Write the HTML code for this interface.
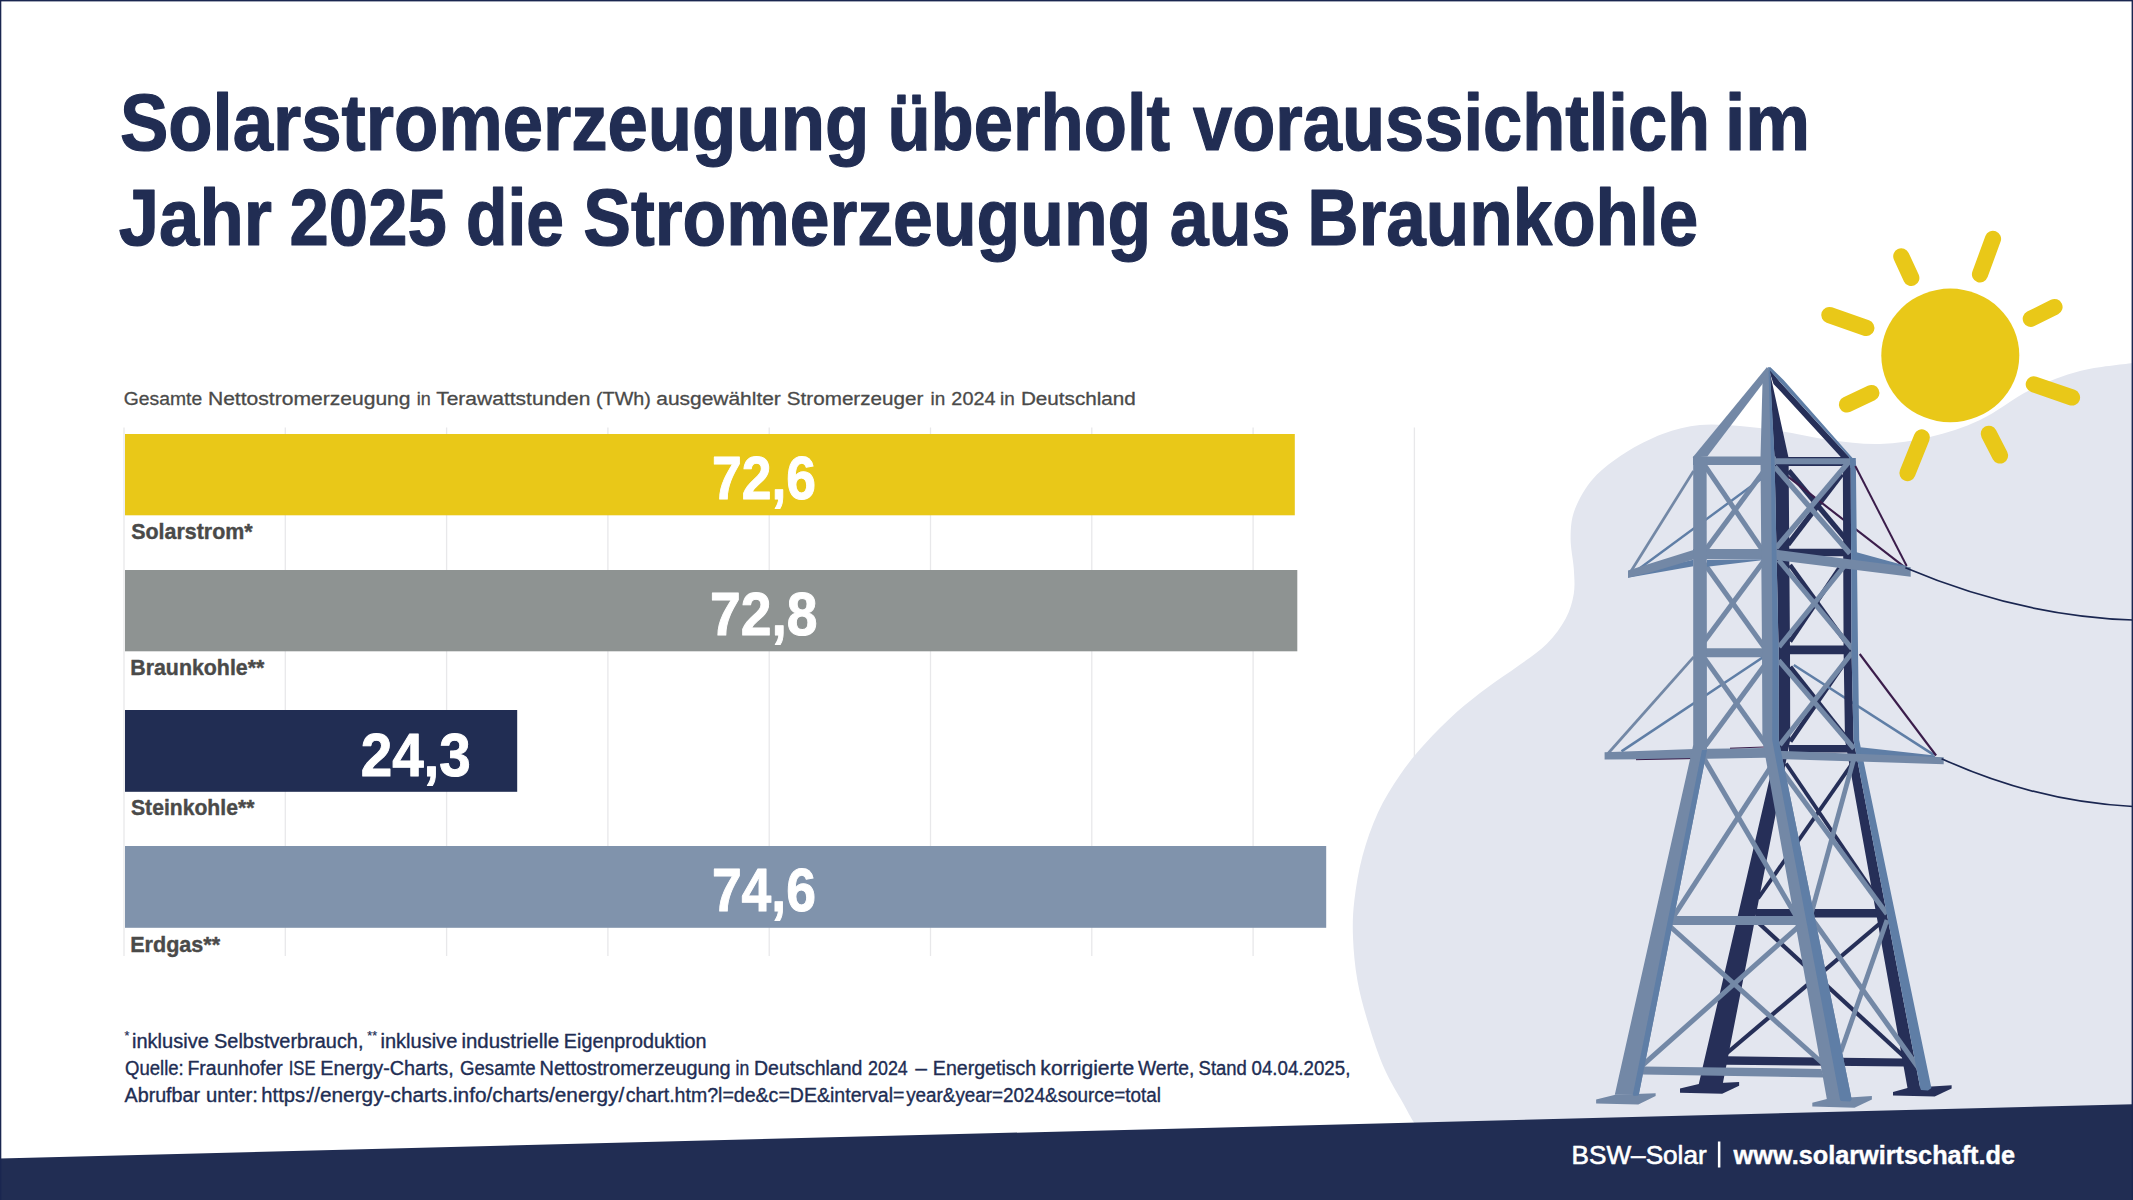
<!DOCTYPE html>
<html lang="de"><head><meta charset="utf-8"><title>Solarstromerzeugung</title>
<style>
html,body{margin:0;padding:0;background:#fff;}
body{width:2133px;height:1200px;overflow:hidden;font-family:"Liberation Sans",sans-serif;}
svg{display:block;}
</style></head><body>
<svg width="2133" height="1200" viewBox="0 0 2133 1200">
<rect x="0" y="0" width="2133" height="1200" fill="#ffffff"/>
<rect x="123.35" y="427.5" width="1.3" height="528.5" fill="#e8e8ea"/>
<rect x="284.65" y="427.5" width="1.3" height="528.5" fill="#e8e8ea"/>
<rect x="445.95" y="427.5" width="1.3" height="528.5" fill="#e8e8ea"/>
<rect x="607.25" y="427.5" width="1.3" height="528.5" fill="#e8e8ea"/>
<rect x="768.55" y="427.5" width="1.3" height="528.5" fill="#e8e8ea"/>
<rect x="929.85" y="427.5" width="1.3" height="528.5" fill="#e8e8ea"/>
<rect x="1091.15" y="427.5" width="1.3" height="528.5" fill="#e8e8ea"/>
<rect x="1252.45" y="427.5" width="1.3" height="528.5" fill="#e8e8ea"/>
<rect x="1413.75" y="427.5" width="1.3" height="528.5" fill="#e8e8ea"/>
<path d="M2140.0,362.0 C2138.8,362.2 2143.0,361.5 2133.0,363.0 C2123.0,364.5 2097.2,366.5 2080.0,371.0 C2062.8,375.5 2046.7,381.8 2030.0,390.0 C2013.3,398.2 1996.7,412.2 1980.0,420.0 C1963.3,427.8 1946.7,433.0 1930.0,437.0 C1913.3,441.0 1896.7,443.5 1880.0,444.0 C1863.3,444.5 1846.7,442.2 1830.0,440.0 C1813.3,437.8 1795.0,433.3 1780.0,431.0 C1765.0,428.7 1753.3,427.0 1740.0,426.0 C1726.7,425.0 1712.9,423.7 1700.0,425.0 C1687.1,426.3 1675.0,429.3 1662.5,434.0 C1650.0,438.7 1636.5,445.7 1625.0,453.0 C1613.5,460.3 1602.1,468.7 1593.8,478.0 C1585.4,487.3 1578.9,499.1 1575.0,509.0 C1571.1,518.9 1570.8,527.5 1570.6,537.5 C1570.4,547.5 1573.2,559.4 1573.8,568.8 C1574.3,578.1 1575.1,585.4 1573.8,593.8 C1572.4,602.1 1570.1,610.4 1565.6,618.8 C1561.1,627.1 1554.7,635.9 1546.9,643.8 C1539.1,651.6 1528.7,658.3 1518.8,665.6 C1508.8,672.9 1497.9,679.7 1487.5,687.5 C1477.1,695.3 1466.7,703.1 1456.2,712.5 C1445.8,721.9 1434.4,733.3 1425.0,743.8 C1415.6,754.2 1407.8,763.5 1400.0,775.0 C1392.2,786.5 1384.2,799.0 1378.0,812.5 C1371.8,826.0 1366.4,841.4 1362.5,856.0 C1358.6,870.6 1356.0,886.4 1354.4,900.0 C1352.8,913.6 1352.5,924.0 1353.0,937.5 C1353.5,951.0 1354.9,966.4 1357.5,981.0 C1360.1,995.6 1364.3,1010.4 1368.8,1025.0 C1373.2,1039.6 1378.7,1055.8 1384.4,1068.8 C1390.1,1081.8 1397.8,1093.6 1403.0,1103.0 C1408.2,1112.4 1409.4,1115.5 1415.6,1125.0 C1421.8,1134.5 1430.9,1147.5 1440.0,1160.0 C1449.1,1172.5 1465.0,1193.3 1470.0,1200.0 L2140,1200 Z" fill="#e3e6ef"/>
<rect x="125" y="434.0" width="1169.8" height="81.3" fill="#e9c818"/>
<rect x="125" y="570.0" width="1172.3" height="81.3" fill="#8e9392"/>
<rect x="125" y="710.0" width="392.2" height="81.8" fill="#212d53"/>
<rect x="125" y="846.0" width="1201.2" height="81.8" fill="#8093ac"/>
<text x="119.88" y="150.0" font-family="Liberation Sans, sans-serif" font-size="79.5" font-weight="bold" fill="#212d53" textLength="749.38" lengthAdjust="spacingAndGlyphs" stroke="#212d53" stroke-width="1.20" stroke-linejoin="round">Solarstromerzeugung</text>
<text x="887.44" y="150.0" font-family="Liberation Sans, sans-serif" font-size="79.5" font-weight="bold" fill="#212d53" textLength="282.68" lengthAdjust="spacingAndGlyphs" stroke="#212d53" stroke-width="1.20" stroke-linejoin="round">überholt</text>
<text x="1193.10" y="150.0" font-family="Liberation Sans, sans-serif" font-size="79.5" font-weight="bold" fill="#212d53" textLength="517.04" lengthAdjust="spacingAndGlyphs" stroke="#212d53" stroke-width="1.20" stroke-linejoin="round">voraussichtlich</text>
<text x="1724.91" y="150.0" font-family="Liberation Sans, sans-serif" font-size="79.5" font-weight="bold" fill="#212d53" textLength="85.09" lengthAdjust="spacingAndGlyphs" stroke="#212d53" stroke-width="1.20" stroke-linejoin="round">im</text>
<text x="118.79" y="244.5" font-family="Liberation Sans, sans-serif" font-size="79.5" font-weight="bold" fill="#212d53" textLength="153.07" lengthAdjust="spacingAndGlyphs" stroke="#212d53" stroke-width="1.20" stroke-linejoin="round">Jahr</text>
<text x="289.52" y="244.5" font-family="Liberation Sans, sans-serif" font-size="79.5" font-weight="bold" fill="#212d53" textLength="157.25" lengthAdjust="spacingAndGlyphs" stroke="#212d53" stroke-width="1.20" stroke-linejoin="round">2025</text>
<text x="465.94" y="244.5" font-family="Liberation Sans, sans-serif" font-size="79.5" font-weight="bold" fill="#212d53" textLength="98.05" lengthAdjust="spacingAndGlyphs" stroke="#212d53" stroke-width="1.20" stroke-linejoin="round">die</text>
<text x="583.20" y="244.5" font-family="Liberation Sans, sans-serif" font-size="79.5" font-weight="bold" fill="#212d53" textLength="568.10" lengthAdjust="spacingAndGlyphs" stroke="#212d53" stroke-width="1.20" stroke-linejoin="round">Stromerzeugung</text>
<text x="1169.74" y="244.5" font-family="Liberation Sans, sans-serif" font-size="79.5" font-weight="bold" fill="#212d53" textLength="120.59" lengthAdjust="spacingAndGlyphs" stroke="#212d53" stroke-width="1.20" stroke-linejoin="round">aus</text>
<text x="1307.33" y="244.5" font-family="Liberation Sans, sans-serif" font-size="79.5" font-weight="bold" fill="#212d53" textLength="390.95" lengthAdjust="spacingAndGlyphs" stroke="#212d53" stroke-width="1.20" stroke-linejoin="round">Braunkohle</text>
<text x="123.85" y="405.2" font-family="Liberation Sans, sans-serif" font-size="18.8" fill="#4a4a49" textLength="78.36" lengthAdjust="spacingAndGlyphs" stroke="#4a4a49" stroke-width="0.30" stroke-linejoin="round">Gesamte</text>
<text x="207.93" y="405.2" font-family="Liberation Sans, sans-serif" font-size="18.8" fill="#4a4a49" textLength="202.62" lengthAdjust="spacingAndGlyphs" stroke="#4a4a49" stroke-width="0.30" stroke-linejoin="round">Nettostromerzeugung</text>
<text x="416.79" y="405.2" font-family="Liberation Sans, sans-serif" font-size="18.8" fill="#4a4a49" textLength="13.98" lengthAdjust="spacingAndGlyphs" stroke="#4a4a49" stroke-width="0.30" stroke-linejoin="round">in</text>
<text x="436.15" y="405.2" font-family="Liberation Sans, sans-serif" font-size="18.8" fill="#4a4a49" textLength="154.30" lengthAdjust="spacingAndGlyphs" stroke="#4a4a49" stroke-width="0.30" stroke-linejoin="round">Terawattstunden</text>
<text x="596.00" y="405.2" font-family="Liberation Sans, sans-serif" font-size="18.8" fill="#4a4a49" textLength="54.82" lengthAdjust="spacingAndGlyphs" stroke="#4a4a49" stroke-width="0.30" stroke-linejoin="round">(TWh)</text>
<text x="656.25" y="405.2" font-family="Liberation Sans, sans-serif" font-size="18.8" fill="#4a4a49" textLength="124.58" lengthAdjust="spacingAndGlyphs" stroke="#4a4a49" stroke-width="0.30" stroke-linejoin="round">ausgewählter</text>
<text x="786.85" y="405.2" font-family="Liberation Sans, sans-serif" font-size="18.8" fill="#4a4a49" textLength="136.48" lengthAdjust="spacingAndGlyphs" stroke="#4a4a49" stroke-width="0.30" stroke-linejoin="round">Stromerzeuger</text>
<text x="930.44" y="405.2" font-family="Liberation Sans, sans-serif" font-size="18.8" fill="#4a4a49" textLength="14.76" lengthAdjust="spacingAndGlyphs" stroke="#4a4a49" stroke-width="0.30" stroke-linejoin="round">in</text>
<text x="951.35" y="405.2" font-family="Liberation Sans, sans-serif" font-size="18.8" fill="#4a4a49" textLength="44.17" lengthAdjust="spacingAndGlyphs" stroke="#4a4a49" stroke-width="0.30" stroke-linejoin="round">2024</text>
<text x="1000.04" y="405.2" font-family="Liberation Sans, sans-serif" font-size="18.8" fill="#4a4a49" textLength="14.76" lengthAdjust="spacingAndGlyphs" stroke="#4a4a49" stroke-width="0.30" stroke-linejoin="round">in</text>
<text x="1020.95" y="405.2" font-family="Liberation Sans, sans-serif" font-size="18.8" fill="#4a4a49" textLength="114.89" lengthAdjust="spacingAndGlyphs" stroke="#4a4a49" stroke-width="0.30" stroke-linejoin="round">Deutschland</text>
<text x="131.20" y="538.8" font-family="Liberation Sans, sans-serif" font-size="22.0" font-weight="bold" fill="#4a4a49" textLength="121.47" lengthAdjust="spacingAndGlyphs" stroke="#4a4a49" stroke-width="0.40" stroke-linejoin="round">Solarstrom*</text>
<text x="130.23" y="675.0" font-family="Liberation Sans, sans-serif" font-size="22.0" font-weight="bold" fill="#4a4a49" textLength="134.15" lengthAdjust="spacingAndGlyphs" stroke="#4a4a49" stroke-width="0.40" stroke-linejoin="round">Braunkohle**</text>
<text x="131.00" y="815.0" font-family="Liberation Sans, sans-serif" font-size="22.0" font-weight="bold" fill="#4a4a49" textLength="123.38" lengthAdjust="spacingAndGlyphs" stroke="#4a4a49" stroke-width="0.40" stroke-linejoin="round">Steinkohle**</text>
<text x="130.22" y="951.8" font-family="Liberation Sans, sans-serif" font-size="22.0" font-weight="bold" fill="#4a4a49" textLength="89.95" lengthAdjust="spacingAndGlyphs" stroke="#4a4a49" stroke-width="0.40" stroke-linejoin="round">Erdgas**</text>
<text x="711.98" y="499.4" font-family="Liberation Sans, sans-serif" font-size="62.0" font-weight="bold" fill="#ffffff" textLength="104.00" lengthAdjust="spacingAndGlyphs" stroke="#ffffff" stroke-width="1.00" stroke-linejoin="round">72,6</text>
<text x="710.02" y="634.8" font-family="Liberation Sans, sans-serif" font-size="62.0" font-weight="bold" fill="#ffffff" textLength="107.60" lengthAdjust="spacingAndGlyphs" stroke="#ffffff" stroke-width="1.00" stroke-linejoin="round">72,8</text>
<text x="360.67" y="775.9" font-family="Liberation Sans, sans-serif" font-size="62.0" font-weight="bold" fill="#ffffff" textLength="110.18" lengthAdjust="spacingAndGlyphs" stroke="#ffffff" stroke-width="1.00" stroke-linejoin="round">24,3</text>
<text x="711.88" y="911.1" font-family="Liberation Sans, sans-serif" font-size="62.0" font-weight="bold" fill="#ffffff" textLength="104.00" lengthAdjust="spacingAndGlyphs" stroke="#ffffff" stroke-width="1.00" stroke-linejoin="round">74,6</text>
<text x="124.50" y="1040.0" font-family="Liberation Sans, sans-serif" font-size="13.0" fill="#212d53" textLength="4.86" lengthAdjust="spacingAndGlyphs" stroke="#212d53" stroke-width="0.20" stroke-linejoin="round">*</text>
<text x="132.05" y="1047.7" font-family="Liberation Sans, sans-serif" font-size="19.5" fill="#212d53" textLength="76.74" lengthAdjust="spacingAndGlyphs" stroke="#212d53" stroke-width="0.35" stroke-linejoin="round">inklusive</text>
<text x="214.08" y="1047.7" font-family="Liberation Sans, sans-serif" font-size="19.5" fill="#212d53" textLength="149.40" lengthAdjust="spacingAndGlyphs" stroke="#212d53" stroke-width="0.35" stroke-linejoin="round">Selbstverbrauch,</text>
<text x="367.30" y="1040.0" font-family="Liberation Sans, sans-serif" font-size="13.0" fill="#212d53" textLength="9.76" lengthAdjust="spacingAndGlyphs" stroke="#212d53" stroke-width="0.20" stroke-linejoin="round">**</text>
<text x="380.45" y="1047.7" font-family="Liberation Sans, sans-serif" font-size="19.5" fill="#212d53" textLength="76.85" lengthAdjust="spacingAndGlyphs" stroke="#212d53" stroke-width="0.35" stroke-linejoin="round">inklusive</text>
<text x="461.43" y="1047.7" font-family="Liberation Sans, sans-serif" font-size="19.5" fill="#212d53" textLength="97.79" lengthAdjust="spacingAndGlyphs" stroke="#212d53" stroke-width="0.35" stroke-linejoin="round">industrielle</text>
<text x="563.86" y="1047.7" font-family="Liberation Sans, sans-serif" font-size="19.5" fill="#212d53" textLength="142.72" lengthAdjust="spacingAndGlyphs" stroke="#212d53" stroke-width="0.35" stroke-linejoin="round">Eigenproduktion</text>
<text x="125.08" y="1074.7" font-family="Liberation Sans, sans-serif" font-size="19.5" fill="#212d53" textLength="58.70" lengthAdjust="spacingAndGlyphs" stroke="#212d53" stroke-width="0.35" stroke-linejoin="round">Quelle:</text>
<text x="187.48" y="1074.7" font-family="Liberation Sans, sans-serif" font-size="19.5" fill="#212d53" textLength="95.24" lengthAdjust="spacingAndGlyphs" stroke="#212d53" stroke-width="0.35" stroke-linejoin="round">Fraunhofer</text>
<text x="288.72" y="1074.7" font-family="Liberation Sans, sans-serif" font-size="19.5" fill="#212d53" textLength="26.81" lengthAdjust="spacingAndGlyphs" stroke="#212d53" stroke-width="0.35" stroke-linejoin="round">ISE</text>
<text x="320.36" y="1074.7" font-family="Liberation Sans, sans-serif" font-size="19.5" fill="#212d53" textLength="133.31" lengthAdjust="spacingAndGlyphs" stroke="#212d53" stroke-width="0.35" stroke-linejoin="round">Energy-Charts,</text>
<text x="460.07" y="1074.7" font-family="Liberation Sans, sans-serif" font-size="19.5" fill="#212d53" textLength="75.46" lengthAdjust="spacingAndGlyphs" stroke="#212d53" stroke-width="0.35" stroke-linejoin="round">Gesamte</text>
<text x="539.56" y="1074.7" font-family="Liberation Sans, sans-serif" font-size="19.5" fill="#212d53" textLength="191.13" lengthAdjust="spacingAndGlyphs" stroke="#212d53" stroke-width="0.35" stroke-linejoin="round">Nettostromerzeugung</text>
<text x="735.47" y="1074.7" font-family="Liberation Sans, sans-serif" font-size="19.5" fill="#212d53" textLength="13.72" lengthAdjust="spacingAndGlyphs" stroke="#212d53" stroke-width="0.35" stroke-linejoin="round">in</text>
<text x="753.98" y="1074.7" font-family="Liberation Sans, sans-serif" font-size="19.5" fill="#212d53" textLength="108.39" lengthAdjust="spacingAndGlyphs" stroke="#212d53" stroke-width="0.35" stroke-linejoin="round">Deutschland</text>
<text x="868.07" y="1074.7" font-family="Liberation Sans, sans-serif" font-size="19.5" fill="#212d53" textLength="39.71" lengthAdjust="spacingAndGlyphs" stroke="#212d53" stroke-width="0.35" stroke-linejoin="round">2024</text>
<text x="915.27" y="1074.7" font-family="Liberation Sans, sans-serif" font-size="19.5" fill="#212d53" textLength="11.75" lengthAdjust="spacingAndGlyphs" stroke="#212d53" stroke-width="0.35" stroke-linejoin="round">—</text>
<text x="932.87" y="1074.7" font-family="Liberation Sans, sans-serif" font-size="19.5" fill="#212d53" textLength="103.40" lengthAdjust="spacingAndGlyphs" stroke="#212d53" stroke-width="0.35" stroke-linejoin="round">Energetisch</text>
<text x="1040.39" y="1074.7" font-family="Liberation Sans, sans-serif" font-size="19.5" fill="#212d53" textLength="93.85" lengthAdjust="spacingAndGlyphs" stroke="#212d53" stroke-width="0.35" stroke-linejoin="round">korrigierte</text>
<text x="1137.97" y="1074.7" font-family="Liberation Sans, sans-serif" font-size="19.5" fill="#212d53" textLength="56.45" lengthAdjust="spacingAndGlyphs" stroke="#212d53" stroke-width="0.35" stroke-linejoin="round">Werte,</text>
<text x="1198.58" y="1074.7" font-family="Liberation Sans, sans-serif" font-size="19.5" fill="#212d53" textLength="48.25" lengthAdjust="spacingAndGlyphs" stroke="#212d53" stroke-width="0.35" stroke-linejoin="round">Stand</text>
<text x="1251.47" y="1074.7" font-family="Liberation Sans, sans-serif" font-size="19.5" fill="#212d53" textLength="98.91" lengthAdjust="spacingAndGlyphs" stroke="#212d53" stroke-width="0.35" stroke-linejoin="round">04.04.2025,</text>
<text x="124.58" y="1101.7" font-family="Liberation Sans, sans-serif" font-size="19.5" fill="#212d53" textLength="75.44" lengthAdjust="spacingAndGlyphs" stroke="#212d53" stroke-width="0.35" stroke-linejoin="round">Abrufbar</text>
<text x="206.03" y="1101.7" font-family="Liberation Sans, sans-serif" font-size="19.5" fill="#212d53" textLength="51.86" lengthAdjust="spacingAndGlyphs" stroke="#212d53" stroke-width="0.35" stroke-linejoin="round">unter:</text>
<text x="261.34" y="1101.7" font-family="Liberation Sans, sans-serif" font-size="19.5" fill="#212d53" textLength="49.35" lengthAdjust="spacingAndGlyphs" stroke="#212d53" stroke-width="0.35" stroke-linejoin="round">https:</text>
<text x="308.38" y="1101.7" font-family="Liberation Sans, sans-serif" font-size="19.5" fill="#212d53" textLength="315.83" lengthAdjust="spacingAndGlyphs" stroke="#212d53" stroke-width="0.35" stroke-linejoin="round">//energy-charts.info/charts/energy/</text>
<text x="625.67" y="1101.7" font-family="Liberation Sans, sans-serif" font-size="19.5" fill="#212d53" textLength="278.84" lengthAdjust="spacingAndGlyphs" stroke="#212d53" stroke-width="0.35" stroke-linejoin="round">chart.htm?l=de&amp;c=DE&amp;interval=</text>
<text x="906.17" y="1101.7" font-family="Liberation Sans, sans-serif" font-size="19.5" fill="#212d53" textLength="254.77" lengthAdjust="spacingAndGlyphs" stroke="#212d53" stroke-width="0.35" stroke-linejoin="round">year&amp;year=2024&amp;source=total</text>
<polygon points="1680.0,1088.6 1698.8,1083.9 1739.1,1082.0 1739.1,1085.8 1722.2,1093.8 1680.0,1092.8" fill="#262f58"/>
<polygon points="1893.0,1091.9 1907.5,1088.1 1951.6,1085.3 1951.6,1088.6 1934.7,1096.6 1893.0,1095.6" fill="#262f58"/>
<line x1="1854.7" y1="760.0" x2="1758.0" y2="898.5" stroke="#262f58" stroke-width="3.9" stroke-linecap="butt"/>
<line x1="1786.0" y1="763.5" x2="1880.0" y2="902.0" stroke="#262f58" stroke-width="3.9" stroke-linecap="butt"/>
<line x1="1757.5" y1="922.0" x2="1904.7" y2="1057.2" stroke="#262f58" stroke-width="4.2" stroke-linecap="butt"/>
<line x1="1884.0" y1="920.0" x2="1727.0" y2="1053.0" stroke="#262f58" stroke-width="4.2" stroke-linecap="butt"/>
<line x1="1790.0" y1="565.0" x2="1845.0" y2="641.0" stroke="#262f58" stroke-width="4.6" stroke-linecap="butt"/>
<line x1="1839.5" y1="568.0" x2="1790.0" y2="641.5" stroke="#262f58" stroke-width="4.6" stroke-linecap="butt"/>
<line x1="1790.3" y1="666.8" x2="1846.3" y2="738.0" stroke="#262f58" stroke-width="4.6" stroke-linecap="butt"/>
<line x1="1845.7" y1="661.0" x2="1790.3" y2="741.5" stroke="#262f58" stroke-width="4.6" stroke-linecap="butt"/>
<line x1="1788.7" y1="470.7" x2="1845.3" y2="538.7" stroke="#262f58" stroke-width="5.2" stroke-linecap="butt"/>
<line x1="1841.9" y1="474.0" x2="1787.9" y2="544.6" stroke="#262f58" stroke-width="5.2" stroke-linecap="butt"/>
<polygon points="1776.0,456.9 1846.0,456.9 1846.0,466.0 1776.0,466.0" fill="#262f58"/>
<polygon points="1788.0,548.7 1847.0,548.7 1847.0,556.2 1788.0,556.2" fill="#262f58"/>
<polygon points="1789.0,645.6 1847.0,645.6 1847.0,654.2 1789.0,654.2" fill="#262f58"/>
<polygon points="1789.0,745.0 1848.0,745.0 1848.0,752.6 1789.0,752.6" fill="#262f58"/>
<polygon points="1756.0,909.0 1886.0,909.0 1886.0,917.5 1756.0,917.5" fill="#262f58"/>
<polygon points="1726.0,1056.3 1903.8,1058.6 1905.6,1066.6 1726.0,1064.7" fill="#262f58"/>
<line x1="1793.8" y1="665.0" x2="1933.8" y2="754.9" stroke="#5f7ea6" stroke-width="2.5" stroke-linecap="butt"/>
<line x1="1788.0" y1="476.7" x2="1904.0" y2="566.7" stroke="#3b1d4b" stroke-width="2.1" stroke-linecap="butt"/>
<polygon points="1769.0,368.5 1774.5,458.0 1778.6,650.0 1778.6,740.0 1698.8,1084.0 1722.7,1084.0 1790.2,740.0 1790.0,650.0 1788.6,458.0" fill="#262f58"/>
<polygon points="1842.8,458.0 1843.6,650.0 1845.0,740.0 1907.5,1088.1 1920.2,1088.1 1853.5,740.0 1851.5,650.0 1850.7,458.0" fill="#262f58"/>
<polygon points="1768.5,368.0 1780.0,382.1 1849.6,457.6 1846.0,466.0 1841.7,457.9 1780.0,390.8 1773.5,384.0 1769.0,370.0" fill="#262f58"/>
<polygon points="1767.6,367.2 1770.5,367.2 1783.8,380.3 1855.4,461.2 1855.8,468.0 1850.2,468.0 1849.2,457.1 1780.0,382.1 1768.5,369.0" fill="#5f7ea6"/>
<line x1="1634.0" y1="572.5" x2="1761.0" y2="479.0" stroke="#5f7ea6" stroke-width="2.4" stroke-linecap="butt"/>
<line x1="1621.5" y1="751.4" x2="1762.6" y2="657.5" stroke="#5f7ea6" stroke-width="2.5" stroke-linecap="butt"/>
<line x1="1703.5" y1="463.7" x2="1763.3" y2="551.3" stroke="#7388a6" stroke-width="5.0" stroke-linecap="butt"/>
<line x1="1763.4" y1="471.8" x2="1704.6" y2="551.2" stroke="#7388a6" stroke-width="5.0" stroke-linecap="butt"/>
<line x1="1774.7" y1="466.7" x2="1850.0" y2="553.6" stroke="#7388a6" stroke-width="5.3" stroke-linecap="butt"/>
<line x1="1848.7" y1="462.0" x2="1776.0" y2="548.0" stroke="#7388a6" stroke-width="5.3" stroke-linecap="butt"/>
<line x1="1704.5" y1="563.7" x2="1764.3" y2="647.3" stroke="#7388a6" stroke-width="5.0" stroke-linecap="butt"/>
<line x1="1764.4" y1="560.3" x2="1704.4" y2="641.2" stroke="#7388a6" stroke-width="5.0" stroke-linecap="butt"/>
<line x1="1778.5" y1="560.0" x2="1852.0" y2="648.6" stroke="#7388a6" stroke-width="5.0" stroke-linecap="butt"/>
<line x1="1844.0" y1="566.5" x2="1779.0" y2="647.0" stroke="#7388a6" stroke-width="5.0" stroke-linecap="butt"/>
<line x1="1704.9" y1="658.9" x2="1766.1" y2="744.8" stroke="#7388a6" stroke-width="5.0" stroke-linecap="butt"/>
<line x1="1765.0" y1="664.8" x2="1705.4" y2="745.8" stroke="#7388a6" stroke-width="5.0" stroke-linecap="butt"/>
<line x1="1778.7" y1="660.4" x2="1854.0" y2="748.7" stroke="#7388a6" stroke-width="5.0" stroke-linecap="butt"/>
<line x1="1852.0" y1="652.8" x2="1779.8" y2="745.0" stroke="#7388a6" stroke-width="5.0" stroke-linecap="butt"/>
<line x1="1704.0" y1="758.6" x2="1797.5" y2="918.5" stroke="#7388a6" stroke-width="5.0" stroke-linecap="butt"/>
<line x1="1770.0" y1="768.0" x2="1673.0" y2="917.4" stroke="#7388a6" stroke-width="5.0" stroke-linecap="butt"/>
<line x1="1775.4" y1="762.0" x2="1887.0" y2="914.0" stroke="#7388a6" stroke-width="5.0" stroke-linecap="butt"/>
<line x1="1853.5" y1="760.0" x2="1810.6" y2="916.0" stroke="#7388a6" stroke-width="4.8" stroke-linecap="butt"/>
<line x1="1669.0" y1="925.5" x2="1824.0" y2="1064.5" stroke="#7388a6" stroke-width="5.0" stroke-linecap="butt"/>
<line x1="1800.0" y1="925.3" x2="1641.0" y2="1066.6" stroke="#7388a6" stroke-width="5.0" stroke-linecap="butt"/>
<line x1="1813.0" y1="920.2" x2="1917.9" y2="1067.0" stroke="#7388a6" stroke-width="5.0" stroke-linecap="butt"/>
<line x1="1887.0" y1="920.0" x2="1840.8" y2="1052.0" stroke="#7388a6" stroke-width="4.8" stroke-linecap="butt"/>
<polygon points="1850.7,458.0 1851.5,650.0 1853.5,740.0 1920.2,1088.1 1921.0,1090.0 1928.0,1090.5 1931.4,1088.1 1859.2,740.0 1858.0,650.0 1855.8,458.0" fill="#5f7ea6"/>
<polygon points="1693.0,456.5 1776.0,456.5 1776.0,465.0 1693.0,465.0" fill="#7388a6"/>
<polygon points="1776.0,458.3 1850.0,458.3 1850.0,464.3 1776.0,464.3" fill="#7388a6"/>
<polygon points="1706.0,648.2 1763.0,648.2 1763.0,657.2 1706.0,657.2" fill="#7388a6"/>
<polygon points="1672.0,916.0 1798.0,916.0 1798.0,925.0 1672.0,925.0" fill="#7388a6"/>
<polygon points="1642.5,1066.6 1821.3,1068.9 1824.0,1077.4 1642.5,1074.5" fill="#7388a6"/>
<polygon points="1628.0,574.0 1628.0,577.8 1693.4,566.2 1693.4,559.7" fill="#5f7ea6"/>
<polygon points="1707.0,560.0 1707.0,566.7 1761.8,560.3 1761.8,559.2" fill="#5f7ea6"/>
<polygon points="1628.0,570.4 1693.4,550.0 1693.4,559.6 1650.0,572.5 1628.0,577.8" fill="#7388a6"/>
<polygon points="1693.0,549.0 1776.0,549.0 1776.0,559.2 1693.0,559.2" fill="#7388a6"/>
<polygon points="1855.7,552.0 1906.7,566.0 1906.7,568.0 1855.7,561.0" fill="#5f7ea6"/>
<polygon points="1774.0,549.5 1910.7,567.3 1910.7,576.7 1774.0,559.8" fill="#7388a6"/>
<polygon points="1604.6,752.2 1693.8,749.0 1763.8,747.9 1778.0,748.0 1778.0,758.0 1763.8,757.8 1693.8,759.0 1604.6,759.5" fill="#7388a6"/>
<line x1="1636.0" y1="759.7" x2="1692.0" y2="758.6" stroke="#3b1d4b" stroke-width="1.0" stroke-linecap="butt"/>
<line x1="1730.0" y1="748.2" x2="1764.0" y2="747.0" stroke="#3b1d4b" stroke-width="1.0" stroke-linecap="butt"/>
<polygon points="1860.3,747.3 1935.0,755.5 1935.0,757.5 1860.3,755.0" fill="#5f7ea6"/>
<polygon points="1778.0,750.8 1943.7,757.2 1943.7,764.2 1778.0,759.0" fill="#7388a6"/>
<polygon points="1596.1,1099.4 1615.3,1094.7 1655.6,1093.3 1655.6,1096.1 1638.3,1104.5 1596.1,1103.6" fill="#7388a6"/>
<polygon points="1812.3,1102.7 1826.9,1098.9 1871.9,1096.1 1871.9,1099.4 1854.5,1107.8 1812.3,1106.4" fill="#7388a6"/>
<polygon points="1766.8,367.2 1692.6,457.5 1707.3,456.5 1762.8,383.5 1767.0,370.0" fill="#7388a6"/>
<polygon points="1693.2,457.0 1693.2,745.0 1614.8,1094.7 1638.8,1094.7 1707.0,750.0 1706.6,457.0" fill="#7388a6"/>
<polygon points="1702.0,750.0 1632.8,1094.7 1633.8,1096.0 1638.3,1095.5 1638.8,1094.7 1707.0,750.0" fill="#5f7ea6"/>
<polygon points="1766.8,367.2 1762.5,382.5 1760.5,458.0 1762.0,650.0 1762.4,740.0 1826.9,1099.4 1851.7,1099.4 1778.7,740.0 1778.5,650.0 1774.5,458.0 1770.0,370.0" fill="#7388a6"/>
<polygon points="1768.5,370.0 1771.0,458.0 1772.5,650.0 1772.2,740.0 1840.0,1099.4 1841.0,1101.0 1850.0,1101.4 1851.7,1099.4 1778.7,740.0 1778.5,650.0 1774.5,458.0 1770.0,370.0" fill="#5f7ea6"/>
<line x1="1630.5" y1="572.0" x2="1693.6" y2="471.0" stroke="#7388a6" stroke-width="2.7" stroke-linecap="butt"/>
<line x1="1906.7" y1="566.0" x2="1855.3" y2="466.0" stroke="#3b1d4b" stroke-width="2.0" stroke-linecap="butt"/>
<line x1="1608.0" y1="753.5" x2="1693.8" y2="656.9" stroke="#7388a6" stroke-width="2.7" stroke-linecap="butt"/>
<line x1="1936.1" y1="755.5" x2="1859.7" y2="654.0" stroke="#3b1d4b" stroke-width="2.1" stroke-linecap="butt"/>
<path d="M1905.4,567.8 Q2019,616 2133,620" fill="none" stroke="#1a2650" stroke-width="1.7"/>
<path d="M1941.6,758.7 Q2037,802 2133,806.5" fill="none" stroke="#1a2650" stroke-width="1.7"/>
<ellipse cx="1950.3" cy="355.4" rx="69" ry="66.8" fill="#e9c818"/>
<line x1="1993.0" y1="238.8" x2="1980.0" y2="274.3" stroke="#e9c818" stroke-width="16.2" stroke-linecap="round"/>
<line x1="1901.3" y1="256.3" x2="1911.3" y2="278.0" stroke="#e9c818" stroke-width="16.2" stroke-linecap="round"/>
<line x1="1829.3" y1="315.0" x2="1866.3" y2="328.0" stroke="#e9c818" stroke-width="16.2" stroke-linecap="round"/>
<line x1="2054.5" y1="307.0" x2="2030.8" y2="318.8" stroke="#e9c818" stroke-width="16.2" stroke-linecap="round"/>
<line x1="2033.8" y1="384.3" x2="2072.0" y2="397.5" stroke="#e9c818" stroke-width="16.2" stroke-linecap="round"/>
<line x1="1871.3" y1="393.0" x2="1847.0" y2="404.5" stroke="#e9c818" stroke-width="16.2" stroke-linecap="round"/>
<line x1="1921.8" y1="437.5" x2="1907.5" y2="473.0" stroke="#e9c818" stroke-width="16.2" stroke-linecap="round"/>
<line x1="1988.8" y1="433.8" x2="2000.0" y2="455.5" stroke="#e9c818" stroke-width="16.2" stroke-linecap="round"/>
<polygon points="0,1158.4 2133,1104.3 2133,1200 0,1200" fill="#212d53"/>
<text x="1571.61" y="1164.0" font-family="Liberation Sans, sans-serif" font-size="25.0" fill="#ffffff" textLength="135.03" lengthAdjust="spacingAndGlyphs" stroke="#ffffff" stroke-width="0.60" stroke-linejoin="round">BSW–Solar</text>
<rect x="1717.9" y="1141.5" width="2.5" height="26" fill="#ffffff"/>
<text x="1733.61" y="1164.0" font-family="Liberation Sans, sans-serif" font-size="25.0" font-weight="bold" fill="#ffffff" textLength="281.39" lengthAdjust="spacingAndGlyphs" stroke="#ffffff" stroke-width="0.40" stroke-linejoin="round">www.solarwirtschaft.de</text>
<rect x="0" y="0" width="2133" height="1.4" fill="#1a2650"/>
<rect x="0" y="0" width="1.3" height="1200" fill="#1a2650"/>
<rect x="2131.6" y="0" width="1.4" height="1200" fill="#1a2650"/>
</svg>
</body></html>
